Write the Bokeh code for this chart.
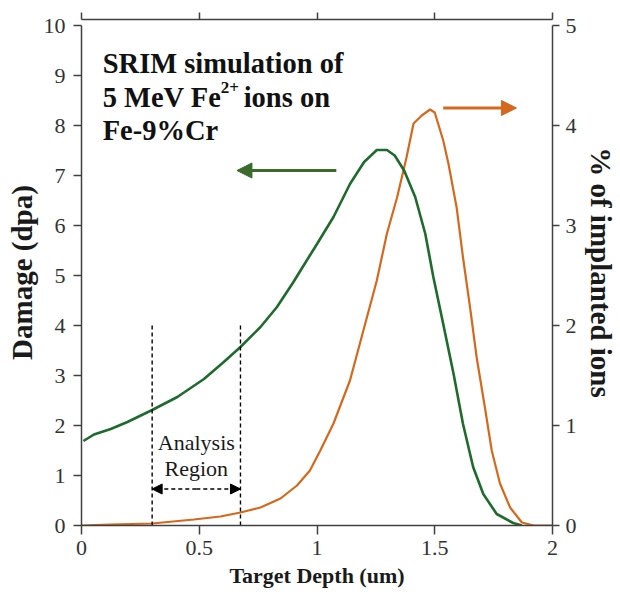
from bokeh.plotting import figure
from bokeh.models import (Range1d, LinearAxis, FixedTicker, CustomJSTickFormatter,
                          Arrow, NormalHead)
from bokeh.core.properties import value
from bokeh.embed import file_html
from bokeh.resources import INLINE

# ---------------- data ----------------
depth_dmg = [0.008, 0.053, 0.124, 0.195, 0.30, 0.407, 0.52, 0.604, 0.675, 0.76, 0.83, 0.90,
             0.93, 1.0, 1.07, 1.14, 1.20, 1.254, 1.297, 1.33, 1.37, 1.417, 1.46, 1.494,
             1.536, 1.58, 1.62, 1.663, 1.706, 1.763, 1.833, 1.87]
damage_dpa = [1.69, 1.82, 1.93, 2.07, 2.31, 2.57, 2.93, 3.27, 3.57, 3.97, 4.37, 4.87,
              5.10, 5.63, 6.17, 6.83, 7.27, 7.51, 7.51, 7.40, 7.10, 6.57, 5.83, 4.97,
              4.03, 3.03, 2.03, 1.17, 0.63, 0.23, 0.05, 0.0]

depth_ion = [0.0, 0.124, 0.30, 0.477, 0.59, 0.675, 0.76, 0.845, 0.915, 0.97, 1.014, 1.07,
             1.14, 1.197, 1.254, 1.297, 1.34, 1.38, 1.41, 1.445, 1.48, 1.50, 1.536, 1.558,
             1.593, 1.62, 1.65, 1.678, 1.713, 1.742, 1.777, 1.82, 1.87, 1.92, 2.0]
implanted_pct = [0.0, 0.01, 0.02, 0.06, 0.09, 0.13, 0.18, 0.27, 0.40, 0.55, 0.75, 1.02,
                 1.45, 1.95, 2.45, 2.92, 3.28, 3.68, 4.02, 4.10, 4.16, 4.13, 3.85, 3.62,
                 3.18, 2.68, 2.18, 1.68, 1.18, 0.75, 0.42, 0.18, 0.03, 0.0, 0.0]

x_ticks = [0.0, 0.5, 1.0, 1.5, 2.0]
x_tick_labels = ["0", "0.5", "1", "1.5", "2"]
left_ticks = [0, 1, 2, 3, 4, 5, 6, 7, 8, 9, 10]
right_ticks = [0, 1, 2, 3, 4, 5]

analysis_region = [0.30, 0.675]
analysis_top = 4.0
analysis_arrow_y = 0.73

title_lines = ["SRIM simulation of", "5 MeV Fe", "2+", "ions on", "Fe-9%Cr"]

# ---------------- styles ----------------
GREEN = "#1f6b2e"
GREEN_ARROW = "#3a6a2c"
ORANGE = "#d4691e"
AX = "#404040"
SERIF = "Liberation Serif"

p = figure(width=620, height=599, output_backend="svg", toolbar_location=None,
           x_range=Range1d(0, 2), y_range=Range1d(0, 10.12),
           min_border_left=81, min_border_right=68, min_border_top=19, min_border_bottom=74,
           x_axis_location=None, y_axis_location=None)
p.grid.visible = False
p.outline_line_color = None
p.background_fill_color = "white"
p.border_fill_color = "white"
p.extra_y_ranges = {"pct": Range1d(0, 5.06)}


def style(ax, size="22px", title_size="22px"):
    ax.axis_line_color = AX
    ax.axis_line_width = 1.5
    ax.major_tick_line_color = AX
    ax.major_tick_line_width = 1.5
    ax.major_tick_in = 0
    ax.major_tick_out = 8
    ax.minor_tick_in = 0
    ax.minor_tick_out = 0
    ax.major_label_text_font = SERIF
    ax.major_label_text_font_size = size
    ax.major_label_text_color = "#333333"
    ax.axis_label_text_font = SERIF
    ax.axis_label_text_font_style = "bold"
    ax.axis_label_text_font_size = title_size
    ax.axis_label_text_color = "#1a1a1a"


xb = LinearAxis(ticker=FixedTicker(ticks=x_ticks), axis_label="Target Depth (um)")
xb.major_label_overrides = {t: l for t, l in zip(x_ticks, x_tick_labels)}
style(xb)
xb.major_tick_out = 9
xb.major_label_standoff = 6
xb.axis_label_standoff = 5
p.add_layout(xb, "below")

xt = LinearAxis(ticker=FixedTicker(ticks=x_ticks),
                formatter=CustomJSTickFormatter(code="return ''"))
style(xt, "1px")
xt.major_tick_out = 7
xt.major_label_standoff = 0
p.add_layout(xt, "above")

yl = LinearAxis(ticker=FixedTicker(ticks=left_ticks), axis_label="Damage (dpa)", bounds=(0, 10))
style(yl, title_size="29px")
yl.major_label_standoff = 8
yl.axis_label_standoff = 3
p.add_layout(yl, "left")

yr = LinearAxis(ticker=FixedTicker(ticks=right_ticks), axis_label="% of implanted ions",
                y_range_name="pct", bounds=(0, 5))
style(yr, title_size="29px")
yr.major_tick_out = 7
yr.major_label_standoff = 6
yr.axis_label_standoff = 5
p.add_layout(yr, "right")

# curves
p.line(depth_ion, implanted_pct, y_range_name="pct", line_color=ORANGE, line_width=2.2)
p.line(depth_dmg, damage_dpa, line_color=GREEN, line_width=2.6)

# analysis region dashed lines
for xv in analysis_region:
    p.segment(x0=[xv], y0=[0], x1=[xv], y1=[analysis_top], line_color="black",
              line_width=1.4, line_dash="4 3")

mid = (analysis_region[0] + analysis_region[1]) / 2
p.add_layout(Arrow(x_start=mid, x_end=analysis_region[0],
                   y_start=analysis_arrow_y, y_end=analysis_arrow_y,
                   line_color="black", line_width=1.4, line_dash="4 3",
                   end=NormalHead(size=10, fill_color="black", line_color="black"), start=None))
p.add_layout(Arrow(x_start=mid, x_end=analysis_region[1],
                   y_start=analysis_arrow_y, y_end=analysis_arrow_y,
                   line_color="black", line_width=1.4, line_dash="4 3",
                   end=NormalHead(size=10, fill_color="black", line_color="black"), start=None))

p.text(x=[mid, mid], y=[1.666, 1.134], text=["Analysis", "Region"],
       text_font=value(SERIF), text_font_size="22px", text_color="#1a1a1a",
       text_align="center", text_baseline="alphabetic")

# series arrows
p.add_layout(Arrow(x_start=1.082, x_end=0.66, y_start=7.1, y_end=7.1,
                   line_color=GREEN_ARROW, line_width=3,
                   end=NormalHead(size=15, fill_color=GREEN_ARROW, line_color=GREEN_ARROW)))
p.add_layout(Arrow(x_start=1.536, x_end=1.847, y_start=8.35, y_end=8.35,
                   line_color=ORANGE, line_width=3,
                   end=NormalHead(size=15, fill_color=ORANGE, line_color=ORANGE)))

# title block
tx = 0.09
common = dict(text_font=value(SERIF), text_font_style="bold", text_color="#111111",
              text_baseline="alphabetic", text_align="left")
p.text(x=[tx], y=[9.24], text=[title_lines[0]], text_font_size="28.5px", **common)
p.text(x=[tx], y=[8.56], text=[title_lines[1]], text_font_size="28.5px", **common)
p.text(x=[tx], y=[8.56], text=[title_lines[2]], text_font_size="17px",
       x_offset=118, y_offset=-10, **common)
p.text(x=[tx], y=[8.56], text=[title_lines[3]], text_font_size="28.5px",
       x_offset=141, **common)
p.text(x=[tx], y=[7.9], text=[title_lines[4]], text_font_size="28.5px", **common)

open("out.html", "w").write(file_html(p, INLINE))
